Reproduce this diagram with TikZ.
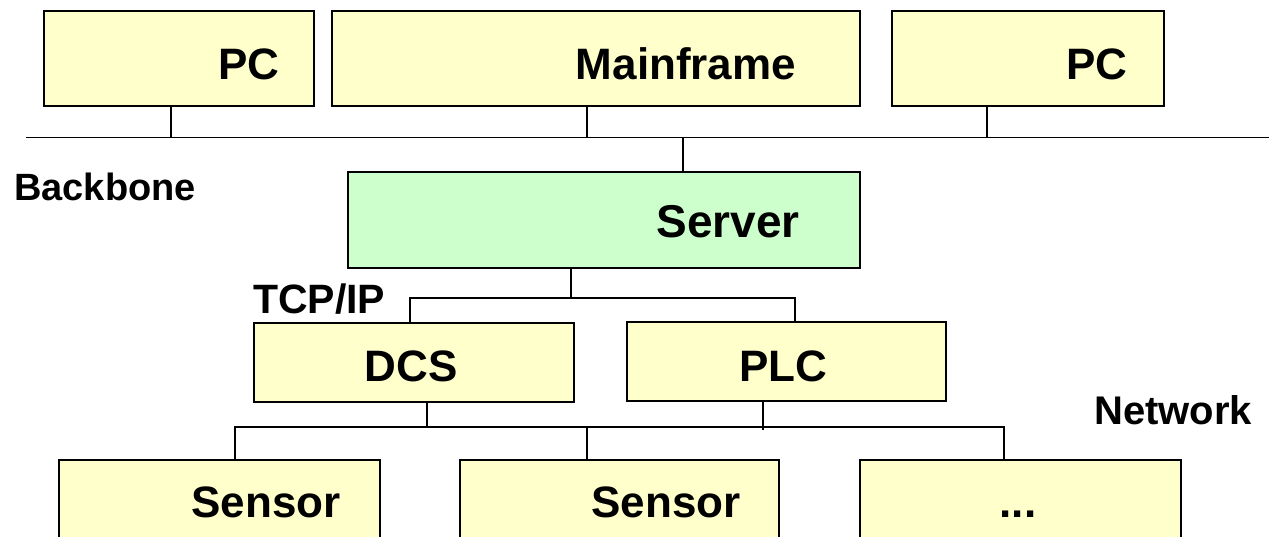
\documentclass[tikz,border=0pt]{standalone}
\usepackage{fontspec}
\setmainfont{Liberation Sans}
\definecolor{boxyellow}{HTML}{FFFFCC}
\definecolor{boxgreen}{HTML}{CCFFCC}
\begin{document}
\begin{tikzpicture}[x=1pt,y=-1pt,
  box/.style={draw=black, line width=1.6pt, inner sep=0pt, anchor=north west, fill=boxyellow},
  gbox/.style={box, fill=boxgreen},
  big/.style={inner sep=0pt, anchor=base, font=\fontsize{44}{50}\selectfont\bfseries},
  lbl/.style={inner sep=0pt, anchor=base west, font=\fontsize{38}{44}\selectfont\bfseries},
  wire/.style={draw=black, line width=1.4pt}
]
\useasboundingbox (0,0) rectangle (1269,537);
\clip (0,0) rectangle (1269,537);
% top row
\node[box, minimum width=270pt, minimum height=95pt] (pc1) at (43,10) {};
\node[box, minimum width=528pt, minimum height=95pt] (mf) at (331,10) {};
\node[box, minimum width=272pt, minimum height=95pt] (pc2) at (891,10) {};
\node[big] (pc1t) at (249,80) {PC};
\node[big] (mft) at (686,80) {Mainframe};
\node[big] (pc2t) at (1097,80) {PC};
% backbone
\coordinate (bbL) at (26,137.5);
\coordinate (bbR) at (1269,137.5);
\coordinate (bb1) at (171,137.5);
\coordinate (bb2) at (587,137.5);
\coordinate (bb3) at (987,137.5);
\coordinate (bb4) at (683,137.5);
\draw[wire] (bbL) -- (bbR);
\draw[wire] (pc1.south -| bb1) -- (bb1);
\draw[wire] (mf.south -| bb2) -- (bb2);
\draw[wire] (pc2.south -| bb3) -- (bb3);
\node[lbl] (bbt) at (14,201) {Backbone};
% server
\node[gbox, minimum width=512pt, minimum height=96pt] (srv) at (347,171) {};
\node[big, font=\fontsize{46}{52}\selectfont\bfseries] (srvt) at (728,238) {Server};
\draw[wire] (bb4) -- (srv.north -| bb4);
% TCP/IP bus
\coordinate (tS) at (571,298);
\coordinate (tL) at (410,298);
\coordinate (tR) at (795,298);
\node[box, minimum width=320pt, minimum height=79pt] (dcs) at (253,322) {};
\node[box, minimum width=319pt, minimum height=79pt] (plc) at (626,321) {};
\node[big] (dcst) at (411,381) {DCS};
\node[big] (plct) at (783,381) {PLC};
\draw[wire] (srv.south -| tS) -- (tS);
\draw[wire] (dcs.north -| tL) -- (tL) -- (tR) -- (plc.north -| tR);
\node[lbl, font=\fontsize{41}{46}\selectfont\bfseries] (tcpt) at (253,313) {TCP/IP};
% field network
\coordinate (nD) at (427,427);
\coordinate (nP) at (763,430);
\coordinate (n1) at (235,427);
\coordinate (n2) at (587,427);
\coordinate (n3) at (1004,427);
\node[box, minimum width=321pt, minimum height=100pt] (s1) at (58,459) {};
\node[box, minimum width=319pt, minimum height=100pt] (s2) at (459,459) {};
\node[box, minimum width=321pt, minimum height=100pt] (s3) at (859,459) {};
\node[big] (s1t) at (266,517) {Sensor};
\node[big] (s2t) at (666,517) {Sensor};
\node[big] (s3t) at (1018,517) {...};
\draw[wire] (dcs.south -| nD) -- (nD);
\draw[wire] (plc.south -| nP) -- (nP);
\draw[wire] (s1.north -| n1) -- (n1) -- (n3) -- (s3.north -| n3);
\draw[wire] (n2) -- (s2.north -| n2);
\node[lbl, font=\fontsize{40}{46}\selectfont\bfseries] (nett) at (1094,424) {Network};
\end{tikzpicture}
\end{document}
